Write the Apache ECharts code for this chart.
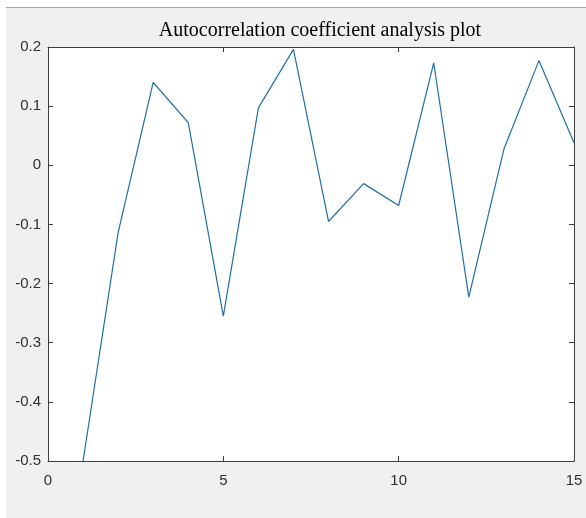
<!DOCTYPE html>
<html>
<head>
<meta charset="utf-8">
<script src="https://cdn.jsdelivr.net/npm/echarts@6/dist/echarts.min.js"></script>
<style>
  html, body { margin: 0; padding: 0; background: #ffffff; }
  #bg { position: absolute; left: 6px; top: 7px; width: 580px; height: 511px; background: #f0f0f0; border-top: 1px solid #a8a8a8; box-sizing: border-box; }
  #chart { position: absolute; left: 0; top: 0; width: 586px; height: 518px; }
</style>
</head>
<body>
<div id="bg"></div>
<div id="chart"></div>
<script>
// Data
const titleText = "Autocorrelation coefficient analysis plot";
const lags = [1, 2, 3, 4, 5, 6, 7, 8, 9, 10, 11, 12, 13, 14, 15];
const acf  = [-0.5, -0.114, 0.140, 0.072, -0.255, 0.097, 0.196, -0.095, -0.031, -0.068, 0.173, -0.223, 0.027, 0.177, 0.038];
const xTicks = { min: 0, max: 15, interval: 5 };
const yTicks = { min: -0.5, max: 0.2, interval: 0.1 };

const axisColor = '#3c3c3c';
const labelColor = '#303030';
const labelFont = 'Liberation Sans, Arial, sans-serif';

const chart = echarts.init(document.getElementById('chart'), null, { renderer: 'canvas' });

function baseAxis(extra) {
  return Object.assign({
    type: 'value',
    axisLine: { show: true, onZero: false, lineStyle: { color: axisColor, width: 1 } },
    axisTick: { show: true, inside: true, length: 5, lineStyle: { color: axisColor, width: 1 } },
    splitLine: { show: false },
    axisLabel: { show: true, color: labelColor, fontFamily: labelFont, fontSize: 15 }
  }, extra);
}

chart.setOption({
  backgroundColor: 'transparent',
  animation: false,
  title: {
    text: titleText,
    left: 320,
    textAlign: 'center',
    top: 21,
    padding: 0,
    textStyle: { fontFamily: 'Liberation Serif, Times New Roman, serif', fontSize: 20, fontWeight: 'normal', color: '#000000' }
  },
  grid: {
    left: 48, right: 12, top: 47, bottom: 57,
    show: true, backgroundColor: '#ffffff', borderWidth: 0
  },
  xAxis: [
    baseAxis({ position: 'bottom', min: xTicks.min, max: xTicks.max, interval: xTicks.interval,
      axisLabel: { show: true, color: labelColor, fontFamily: labelFont, fontSize: 15, margin: 12 } }),
    baseAxis({ position: 'top', min: xTicks.min, max: xTicks.max, interval: xTicks.interval,
      axisLabel: { show: false } })
  ],
  yAxis: [
    baseAxis({ position: 'left', min: yTicks.min, max: yTicks.max, interval: yTicks.interval,
      axisLabel: { show: true, color: labelColor, fontFamily: labelFont, fontSize: 15, margin: 7,
        formatter: v => String(+(+v).toFixed(1)) } }),
    baseAxis({ position: 'right', min: yTicks.min, max: yTicks.max, interval: yTicks.interval,
      axisLabel: { show: false } })
  ],
  series: [{
    type: 'line',
    data: lags.map((l, i) => [l, acf[i]]),
    showSymbol: false,
    symbol: 'none',
    clip: true,
    lineStyle: { color: '#1f6ea6', width: 1.2 },
    itemStyle: { color: '#1f6ea6' }
  }]
});
</script>
</body>
</html>
